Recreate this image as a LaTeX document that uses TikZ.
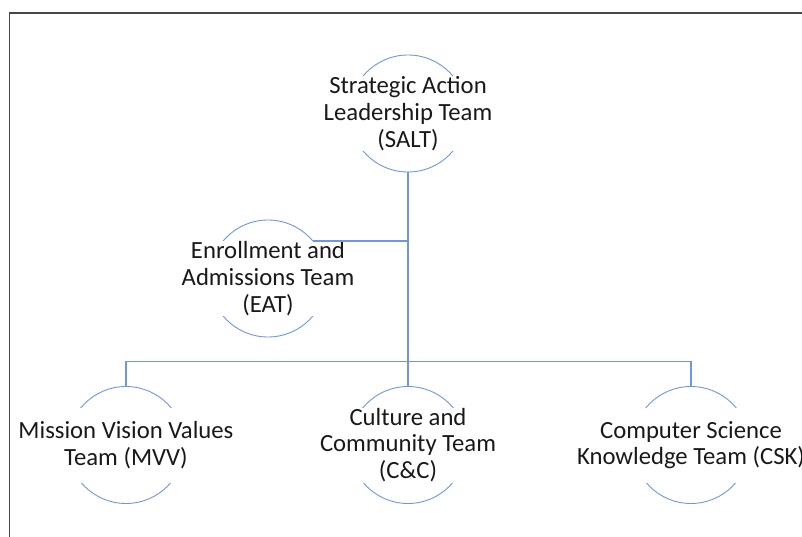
\documentclass[tikz,border=0pt]{standalone}
\usepackage{fontspec}
\setmainfont{Carlito}
\usepackage{tikz}
\usetikzlibrary{positioning}
\definecolor{ringblue}{RGB}{110,150,228}
\definecolor{frameGray}{RGB}{70,70,70}

\begin{document}
\begin{tikzpicture}
[x=1pt,y=1pt,
team/.style={draw=ringblue,circle,line width=.9pt,inner sep=0pt,outer sep=0pt,minimum size=117pt},
teamtext/.style={fill=white,align=center,inner sep=0pt,minimum width=125pt,minimum height=75pt,text=black!90,font=\fontsize{24.7}{26.7}\selectfont},
link/.style={draw=ringblue,line width=1.4pt}]
\useasboundingbox (0,0) rectangle (802,-537);
% outer frame
\draw[frameGray,line width=1.8pt] (9.5,-537) -- (9.5,-12.7) -- (802,-12.7);
% teams
\node[team,label={[teamtext]center:Strategic Action\\Leadership Team\\(SALT)}] (salt) at (408,-113.5) {};
\node[team,label={[teamtext]center:Enrollment and\\Admissions Team\\(EAT)}] (eat) at (268,-278.5) {};
\node[team,label={[teamtext]center:Mission Vision Values\\Team (MVV)}] (mvv) at (126,-445) {};
\node[team,label={[teamtext]center:Culture and\\Community Team\\(C\&C)}] (cc) at (408,-445) {};
\node[team,label={[teamtext]center:Computer Science\\Knowledge Team (CSK)}] (csk) at (691,-445) {};
% connectors
\coordinate (bus) at (0,-361.5);
\draw[link] (salt.south) -- (cc.north);
\draw[link] (eat.40) -- (eat.40 -| salt.south);
\draw[link] (mvv.north) -- (mvv.north |- bus) -- (csk.north |- bus) -- (csk.north);
\end{tikzpicture}
\end{document}
